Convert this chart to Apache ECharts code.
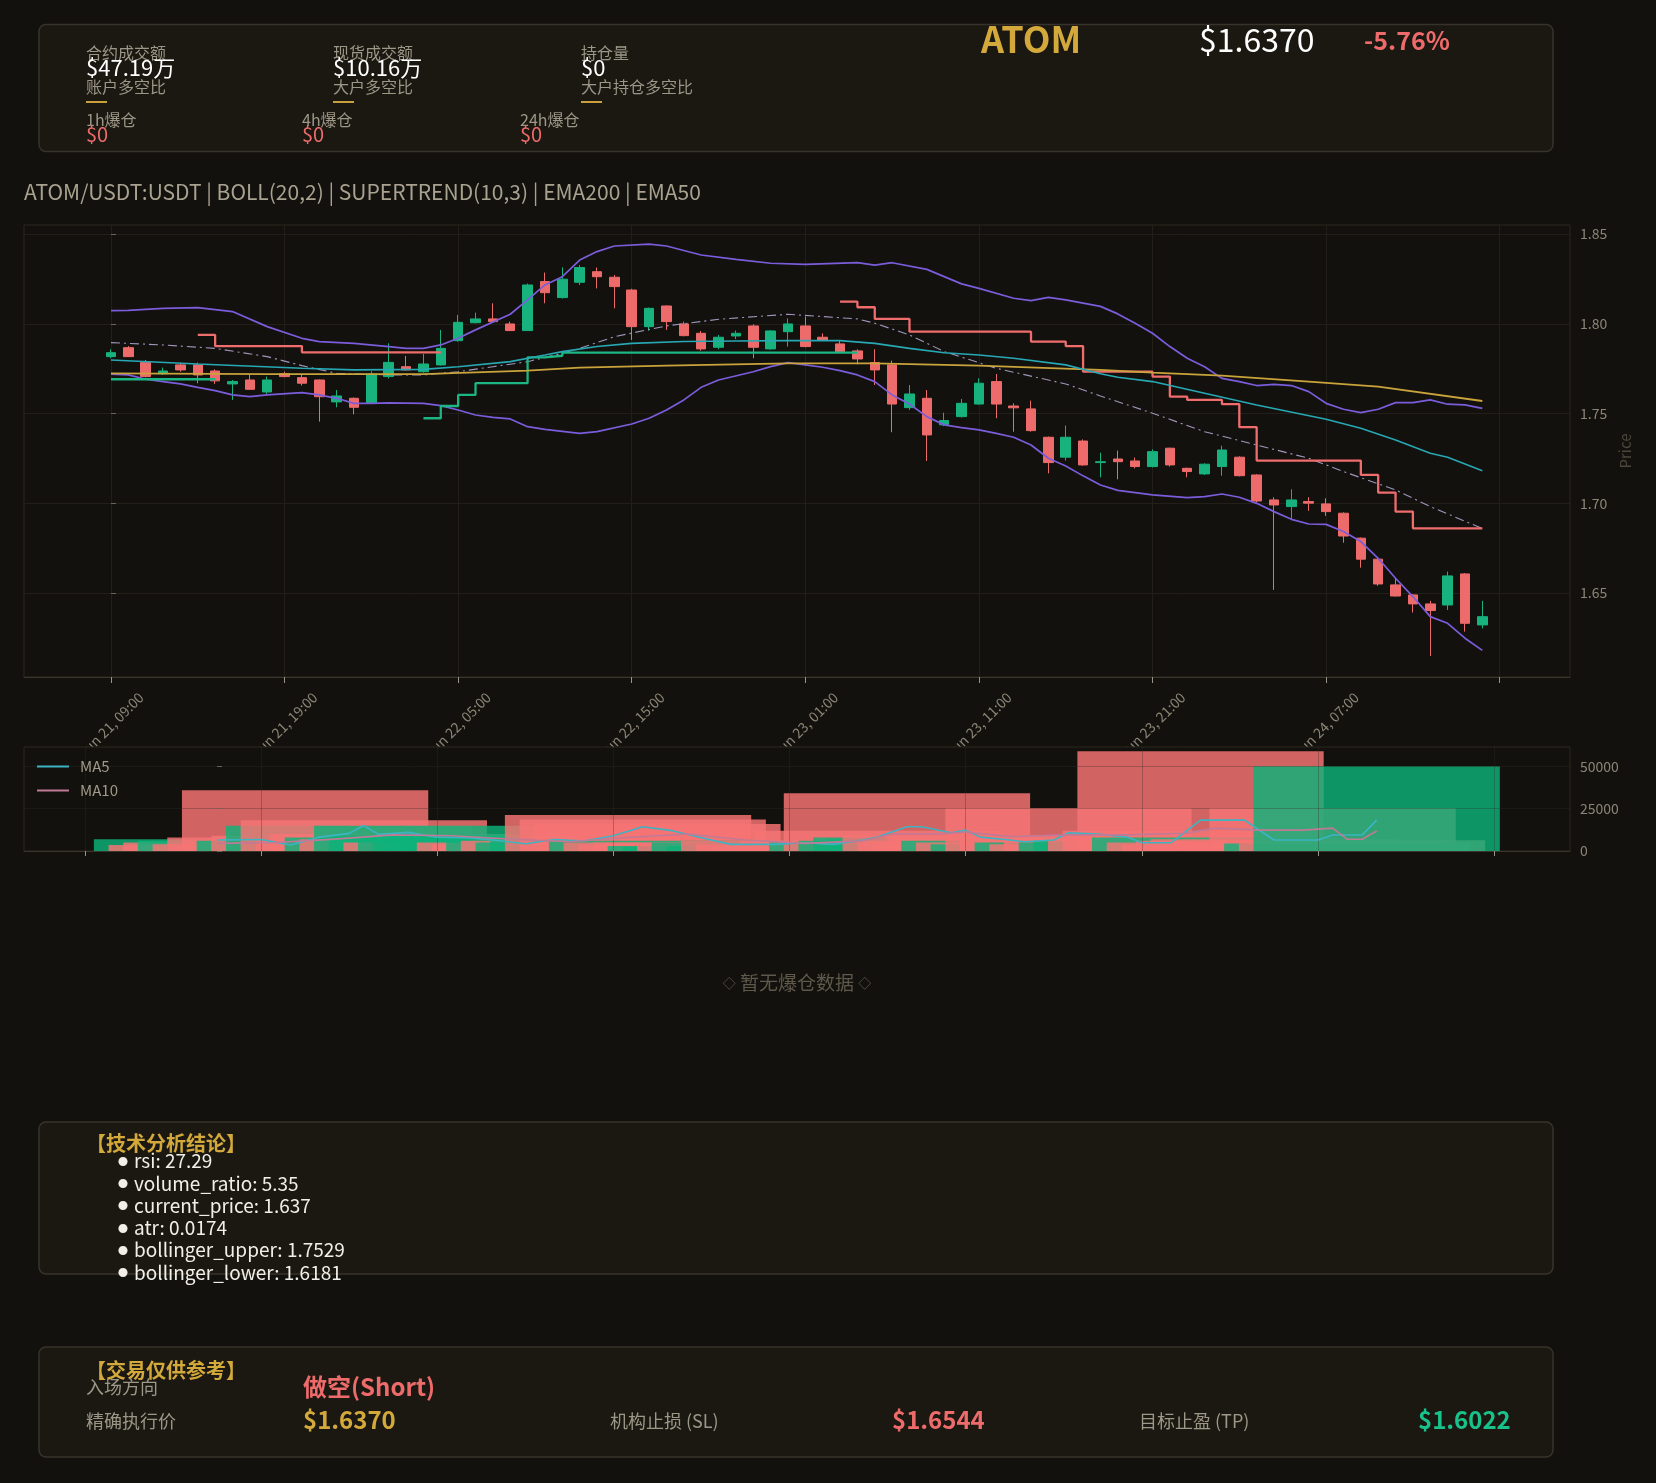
<!DOCTYPE html>
<html><head><meta charset="utf-8">
<script src="https://cdn.jsdelivr.net/npm/echarts@6/dist/echarts.min.js"></script>
<style>html,body{margin:0;padding:0;background:#13110d;}#c{width:1656px;height:1483px;}</style>
</head><body><div id="c"></div><script>
// ---------- data (x = hours since Jun 21 09:00, one candle per hour) ----------
const candleOpen  = [1.7817,1.7867,1.7785,1.7722,1.7771,1.7771,1.7737,1.7665,1.7687,1.7620,1.7722,1.7700,1.7687,1.7565,1.7585,1.7557,1.7706,1.7761,1.7733,1.7771,1.7906,1.8006,1.8027,1.7999,1.7962,1.8235,1.8146,1.8231,1.8290,1.8259,1.8188,1.7984,1.8099,1.7999,1.7947,1.7869,1.7932,1.7988,1.7860,1.7956,1.7988,1.7925,1.7888,1.7849,1.7784,1.7771,1.7533,1.7585,1.7437,1.7483,1.7553,1.7678,1.7542,1.7526,1.7368,1.7257,1.7347,1.7227,1.7247,1.7236,1.7205,1.7307,1.7195,1.7164,1.7205,1.7257,1.7158,1.7019,1.6982,1.7010,1.6997,1.6945,1.6806,1.6689,1.6546,1.6490,1.6440,1.6434,1.6607,1.6323];
const candleHigh  = [1.7858,1.7876,1.7798,1.7756,1.7784,1.7784,1.7746,1.7687,1.7715,1.7706,1.7733,1.7719,1.7690,1.7631,1.7590,1.7735,1.7891,1.7821,1.7832,1.7966,1.8049,1.8062,1.8114,1.8012,1.8224,1.8285,1.8314,1.8327,1.8313,1.8272,1.8195,1.8090,1.8103,1.8012,1.7960,1.7938,1.7962,1.7997,1.7964,1.8030,1.8040,1.7947,1.7906,1.7858,1.7858,1.7795,1.7659,1.7631,1.7505,1.7581,1.7696,1.7720,1.7557,1.7572,1.7372,1.7433,1.7356,1.7282,1.7294,1.7255,1.7301,1.7310,1.7199,1.7223,1.7321,1.7262,1.7162,1.7034,1.7078,1.7034,1.7028,1.6950,1.6810,1.6693,1.6588,1.6495,1.6457,1.6620,1.6612,1.6457];
const candleLow   = [1.7808,1.7815,1.7702,1.7715,1.7733,1.7669,1.7665,1.7576,1.7631,1.7609,1.7702,1.7656,1.7455,1.7535,1.7496,1.7553,1.7696,1.7740,1.7728,1.7768,1.7900,1.8002,1.8008,1.7960,1.7960,1.8114,1.8140,1.8216,1.8197,1.8086,1.7910,1.7962,1.7966,1.7930,1.7850,1.7858,1.7914,1.7808,1.7856,1.7873,1.7869,1.7906,1.7838,1.7774,1.7659,1.7396,1.7520,1.7236,1.7430,1.7478,1.7550,1.7474,1.7399,1.7399,1.7167,1.7238,1.7209,1.7145,1.7134,1.7195,1.7200,1.7205,1.7145,1.7158,1.7154,1.7150,1.7004,1.6518,1.6911,1.6958,1.6930,1.6781,1.6642,1.6541,1.6481,1.6392,1.6150,1.6406,1.6286,1.6304];
const candleClose = [1.7839,1.7817,1.7706,1.7737,1.7743,1.7715,1.7682,1.7678,1.7635,1.7687,1.7706,1.7669,1.7594,1.7598,1.7535,1.7720,1.7785,1.7743,1.7776,1.7863,1.8008,1.8027,1.8012,1.7962,1.8216,1.8173,1.8248,1.8313,1.8262,1.8207,1.7984,1.8086,1.8012,1.7934,1.7860,1.7925,1.7947,1.7869,1.7960,1.7999,1.7873,1.7910,1.7845,1.7804,1.7743,1.7553,1.7609,1.7381,1.7461,1.7557,1.7669,1.7553,1.7532,1.7405,1.7227,1.7368,1.7214,1.7232,1.7232,1.7205,1.7288,1.7214,1.7177,1.7218,1.7297,1.7154,1.7013,1.6991,1.7019,1.7001,1.6954,1.6818,1.6689,1.6551,1.6484,1.6440,1.6403,1.6596,1.6332,1.6369];

const bollUpper = [[0,1.8073],[1,1.8075],[3,1.8086],[5,1.8090],[7,1.8068],[9,1.7984],[11,1.7919],[12,1.7901],[14,1.7891],[16,1.7873],[17,1.7863],[18,1.7863],[19,1.7882],[20,1.7919],[21,1.7966],[23,1.8053],[24,1.8133],[25,1.8216],[26,1.8262],[27,1.8355],[28,1.8402],[29,1.8433],[31,1.8444],[32,1.8433],[34,1.8383],[36,1.8359],[38,1.8337],[40,1.8331],[43,1.8340],[44,1.8327],[45,1.8340],[47,1.8303],[49,1.8222],[50,1.8197],[52,1.8142],[53,1.8129],[54,1.8147],[55,1.8133],[57,1.8097],[58,1.8055],[59,1.8003],[60,1.7947],[61,1.7873],[62,1.7808],[63,1.7761],[64,1.7696],[65,1.7678],[66,1.7656],[67,1.7663],[68,1.7656],[69,1.7622],[70,1.7557],[71,1.7524],[72,1.7505],[73,1.7524],[74,1.7561],[75,1.7561],[76,1.7576],[77,1.7552],[78,1.7548],[79,1.7529]];
const bollLower = [[0,1.7719],[1,1.7715],[2,1.7691],[3,1.7678],[4,1.7665],[5,1.7646],[6,1.7628],[7,1.7604],[8,1.7594],[9,1.7604],[11,1.7617],[12,1.7604],[13,1.7585],[14,1.7557],[15,1.7557],[16,1.7559],[18,1.7557],[19,1.7544],[20,1.7520],[21,1.7492],[22,1.7479],[23,1.7470],[24,1.7427],[25,1.7412],[26,1.7401],[27,1.7390],[28,1.7399],[30,1.7442],[31,1.7474],[32,1.7520],[33,1.7576],[34,1.7646],[35,1.7687],[37,1.7733],[38,1.7761],[39,1.7784],[40,1.7771],[41,1.7758],[42,1.7739],[43,1.7715],[44,1.7678],[45,1.7604],[46,1.7553],[47,1.7483],[48,1.7437],[49,1.7422],[50,1.7409],[51,1.7390],[52,1.7368],[53,1.7325],[54,1.7251],[55,1.7208],[56,1.7153],[57,1.7102],[58,1.7072],[60,1.7047],[62,1.7032],[63,1.7037],[64,1.7052],[65,1.7034],[66,1.7000],[67,1.6954],[68,1.6911],[69,1.6885],[70,1.6883],[71,1.6843],[72,1.6787],[73,1.6694],[74,1.6583],[75,1.6481],[76,1.6369],[77,1.6332],[78,1.6249],[79,1.6181]];
const bollMid = [[0,1.7895],[3,1.7882],[6,1.7863],[9,1.7817],[11,1.7767],[13,1.7724],[16,1.7715],[18,1.7715],[20,1.7733],[22,1.7761],[24,1.7789],[26,1.7836],[27,1.7863],[29,1.7928],[32,1.7988],[35,1.8025],[39,1.8053],[43,1.8027],[44,1.8003],[46,1.7938],[48,1.7845],[51,1.7752],[55,1.7665],[57,1.7598],[60,1.7502],[63,1.7399],[66,1.7325],[69,1.7251],[71,1.7177],[74,1.7075],[76,1.6982],[79,1.6860]];
const ema50 = [[0,1.7798],[5,1.7776],[11,1.7752],[14,1.7743],[18,1.7746],[20,1.7761],[23,1.7789],[25,1.7826],[26,1.7845],[28,1.7873],[30,1.7891],[33,1.7901],[36,1.7904],[39,1.7906],[42,1.7906],[44,1.7891],[46,1.7863],[48,1.7839],[50,1.7826],[52,1.7808],[55,1.7771],[57,1.7722],[58,1.7702],[60,1.7678],[63,1.7613],[66,1.7548],[70,1.7468],[72,1.7418],[74,1.7353],[76,1.7279],[77,1.7257],[79,1.7182]];
const ema200 = [[0,1.7724],[9,1.7720],[18,1.7720],[24,1.7739],[27,1.7756],[32,1.7767],[39,1.7780],[44,1.7780],[50,1.7767],[57,1.7743],[60,1.7728],[64,1.7711],[69,1.7678],[73,1.7650],[79,1.7570]];
const superTrendUp = [1.7691,1.7691,1.7691,1.7691,1.7691,1.7691,null,null,null,null,null,null,null,null,null,null,null,null,1.7474,1.7542,1.7604,1.7669,1.7669,1.7669,1.7813,1.7822,1.7839,1.7839,1.7839,1.7839,1.7839,1.7839,1.7839,1.7839,1.7839,1.7839,1.7839,1.7839,1.7839,1.7839,1.7839,1.7839,1.7839,null,null,null,null,null,null,null,null,null,null,null,null,null,null,null,null,null,null,null,null,null,null,null,null,null,null,null,null,null,null,null,null,null,null,null,null,null];
const superTrendDown = [null,null,null,null,null,1.7938,1.7876,1.7876,1.7876,1.7876,1.7876,1.7841,1.7841,1.7841,1.7841,1.7841,1.7841,1.7841,1.7841,null,null,null,null,null,null,null,null,null,null,null,null,null,null,null,null,null,null,null,null,null,null,null,1.8123,1.8092,1.8027,1.8027,1.7956,1.7956,1.7956,1.7956,1.7956,1.7956,1.7956,1.7901,1.7901,1.7876,1.7733,1.7733,1.7733,1.7733,1.7706,1.7594,1.7576,1.7576,1.7552,1.7424,1.7238,1.7238,1.7238,1.7238,1.7238,1.7238,1.7158,1.7060,1.6954,1.6861,1.6861,1.6861,1.6861,1.6861];

const volumes = [7000,3500,5000,6000,4000,8000,35900,6000,9000,14900,18200,6000,10000,8000,7000,14900,9000,5000,6000,9000,7000,4000,5000,4000,8000,6000,5000,7000,21200,18600,15900,6000,5000,4000,5000,3000,2500,4000,5000,3000,6000,4000,3000,4000,6000,12000,5000,34000,6000,8000,7000,9000,6000,5000,9000,6000,5000,4000,25300,6000,5000,4000,8000,5000,6000,8000,12000,58800,8000,5000,4000,6000,7000,6000,5000,5000,25300,4400,6300,50000];
const volMA5 = [[0,6500],[3,6800],[5,3500],[7,8200],[9,10400],[10,15000],[11,9800],[13,11000],[15,8200],[17,7800],[19,6300],[21,4300],[23,6800],[25,5900],[27,9000],[29,14300],[31,12000],[33,7800],[35,3900],[38,3900],[40,4900],[42,3900],[44,6500],[45,8200],[47,14300],[48,14300],[50,10800],[51,12300],[52,8200],[54,6500],[55,5500],[57,6500],[58,10800],[60,10000],[62,8200],[63,4900],[65,4900],[67,18200],[70,18200],[72,6500],[75,6500],[76,9400],[78,9400],[79,18200]];
const volMA10 = [[0,4500],[4,5000],[8,7000],[12,9500],[16,9000],[20,7000],[24,5500],[28,8000],[32,10000],[36,6500],[40,4500],[44,6000],[46,10000],[49,10000],[51,11200],[54,8500],[58,9500],[62,9500],[66,10500],[68,13500],[71,12300],[74,12300],[76,13500],[77,6900],[78,6900],[79,11800]];

const priceTicks = [1.65,1.70,1.75,1.80,1.85];
const timeTickHours = [0,10,20,30,40,50,60,70,80];
const timeTickLabels = ['Jun 21, 09:00','Jun 21, 19:00','Jun 22, 05:00','Jun 22, 15:00','Jun 23, 01:00','Jun 23, 11:00','Jun 23, 21:00','Jun 24, 07:00'];
const volTickHours = [-9,3,15,27,39,51,63,75,87];
const volTicks = [0,25000,50000];
const analysisLines = ['rsi: 27.29','volume_ratio: 5.35','current_price: 1.637','atr: 0.0174','bollinger_upper: 1.7529','bollinger_lower: 1.6181'];

// ---------- style ----------
const FF = '"Noto Sans CJK SC","Noto Sans",sans-serif';
const UP = '#17b27e', DOWN = '#ee6b6b';
const GRIDC = '#221f19', LABC = '#8b8576';
const BG = '#13110d', BOX = '#1b1812', BOXS = '#38332a';
const GOLD = '#d3a93b', GRAY = '#9d9787';
const VGRID = 'rgba(50,46,40,0.32)';
const volHalfWidth = 8.39;

const chart = echarts.init(document.getElementById('c'), null, {renderer: 'canvas'});

function txt(x, y, text, size, fill, weight, align) {
  return {type: 'text', x: x, y: y, z: 10, style: {text: text, fill: fill, fontSize: size, fontFamily: FF, fontWeight: weight || 'normal', align: align || 'left', verticalAlign: 'middle'}};
}
function box(x, y, w, h) {
  return {type: 'rect', z: 0, shape: {x: x, y: y, width: w, height: h, r: 7}, style: {fill: BOX, stroke: BOXS, lineWidth: 1.5}};
}
function bar(x, y) {
  return {type: 'rect', z: 10, shape: {x: x, y: y, width: 21, height: 2}, style: {fill: '#c9a13c'}};
}

const graphics = [
  box(39, 24.5, 1514, 127),
  txt(86, 53, '合约成交额', 16, GRAY), txt(86, 68, '$47.19万', 22, '#ffffff'), txt(86, 87, '账户多空比', 16, GRAY), bar(86, 101),
  txt(333, 53, '现货成交额', 16, GRAY), txt(333, 68, '$10.16万', 22, '#ffffff'), txt(333, 87, '大户多空比', 16, GRAY), bar(333, 101),
  txt(581, 53, '持仓量', 16, GRAY), txt(581, 68, '$0', 22, '#ffffff'), txt(581, 87, '大户持仓多空比', 16, GRAY), bar(581, 101),
  txt(86, 120, '1h爆仓', 16, GRAY), txt(86, 134, '$0', 20, DOWN),
  txt(302, 120, '4h爆仓', 16, GRAY), txt(302, 134, '$0', 20, DOWN),
  txt(520, 120, '24h爆仓', 16, GRAY), txt(520, 134, '$0', 20, DOWN),
  txt(981, 39, 'ATOM', 36, GOLD, 'bold'),
  txt(1199, 40, '$1.6370', 32, '#ffffff'),
  txt(1364, 40, '-5.76%', 25, DOWN, 'bold'),
  txt(24, 192, 'ATOM/USDT:USDT | BOLL(20,2) | SUPERTREND(10,3) | EMA200 | EMA50', 21, '#a9a290'),
  // cover for the rotated date labels that run into the volume panel
  {type: 'rect', z: 1, shape: {x: 24, y: 747, width: 1546, height: 104}, style: {fill: BG}},
  {type: 'text', x: 797, y: 983, z: 10, style: {
    text: '{d|◇} 暂无爆仓数据 {d|◇}', fill: '#5f594b', fontSize: 19, fontFamily: FF, align: 'center', verticalAlign: 'middle',
    rich: {d: {fontSize: 13, fill: '#5f594b', fontFamily: FF}}}},
  box(39, 1122, 1514, 152),
  txt(86, 1143, '【技术分析结论】', 20, GOLD, 'bold'),
  box(39, 1347, 1514, 110),
  txt(86, 1370, '【交易仅供参考】', 20, GOLD, 'bold'),
  txt(86, 1387, '入场方向', 18, GRAY),
  txt(303, 1387, '做空(Short)', 24, DOWN, 'bold'),
  txt(86, 1421, '精确执行价', 18, GRAY),
  txt(303, 1420, '$1.6370', 24, GOLD, 'bold'),
  txt(610, 1421, '机构止损 (SL)', 18, GRAY),
  txt(892, 1420, '$1.6544', 24, DOWN, 'bold'),
  txt(1139, 1421, '目标止盈 (TP)', 18, GRAY),
  txt(1418, 1420, '$1.6022', 24, '#19c28a', 'bold')
];
analysisLines.forEach((s, k) => {
  const y = 1161 + k * 22.3;
  graphics.push(txt(118, y + 1, '●', 10, '#f2efe8'));
  graphics.push(txt(134, y, s, 19, '#f2efe8'));
});

const lineS = (name, data, color, width, extra) => Object.assign({
  name: name, type: 'line', data: data, xAxisIndex: 0, yAxisIndex: 0, symbol: 'none', showSymbol: false,
  lineStyle: {color: color, width: width}, itemStyle: {color: color}, animation: false, z: 3
}, extra || {});

const option = {
  backgroundColor: BG,
  animation: false,
  textStyle: {fontFamily: FF},
  graphic: graphics,
  legend: {
    data: ['MA5', 'MA10'], orient: 'vertical', left: 37, top: 759, padding: 0, itemWidth: 32, itemHeight: 14, itemGap: 9,
    icon: 'path://M0,6 L32,6 L32,8 L0,8 Z',
    textStyle: {color: '#a09a88', fontSize: 15, fontFamily: FF, padding: [0, 0, 0, 6]}, z: 10
  },
  grid: [
    {left: 24, top: 225, width: 1546, height: 452, show: true, borderColor: '#2c2920', borderWidth: 1, backgroundColor: 'transparent', outerBoundsMode: 'none'},
    {left: 24, top: 747, width: 1546, height: 104, show: true, borderColor: '#2c2920', borderWidth: 1, backgroundColor: 'transparent', z: 3, outerBoundsMode: 'none'}
  ],
  xAxis: [
    {type: 'value', gridIndex: 0, min: -5.01, max: 84.05,
     axisLine: {show: true, lineStyle: {color: '#3a362c'}},
     axisTick: {show: true, length: 6, lineStyle: {color: '#9a9486'}, customValues: timeTickHours},
     splitLine: {show: true, lineStyle: {color: GRIDC, width: 1}},
     axisLabel: {show: true, customValues: timeTickHours.slice(0, 8), rotate: 45, align: 'center', verticalAlign: 'middle', margin: 48,
       color: LABC, fontSize: 14, fontFamily: FF,
       formatter: v => timeTickLabels[timeTickHours.indexOf(Math.round(v))] || ''}},
    {type: 'value', gridIndex: 1, min: -13.15, max: 92.17, z: 5,
     axisLine: {show: true, lineStyle: {color: '#3a362c'}},
     axisTick: {show: true, length: 5, lineStyle: {color: '#9a9486'}, customValues: volTickHours},
     splitLine: {show: true, lineStyle: {color: VGRID, width: 1}},
     axisLabel: {show: false}}
  ],
  yAxis: [
    {type: 'value', gridIndex: 0, position: 'right', min: 1.6033, max: 1.8550,
     name: 'Price', nameLocation: 'middle', nameGap: 45, nameRotate: 90,
     nameTextStyle: {color: '#4a463a', fontSize: 15, fontFamily: FF},
     axisLine: {show: false},
     axisTick: {show: true, length: 5, lineStyle: {color: '#6a6558'}, customValues: priceTicks},
     splitLine: {show: true, lineStyle: {color: GRIDC, width: 1}},
     axisLabel: {customValues: priceTicks, color: LABC, fontSize: 14, fontFamily: FF, margin: 10, formatter: v => v.toFixed(2)}},
    {type: 'value', gridIndex: 1, position: 'right', min: 0, max: 61350, z: 5,
     axisLine: {show: false},
     axisTick: {show: true, length: 5, lineStyle: {color: '#6a6558'}, customValues: volTicks},
     splitLine: {show: true, lineStyle: {color: VGRID, width: 1}},
     axisLabel: {customValues: volTicks, color: LABC, fontSize: 14, fontFamily: FF, margin: 10, formatter: v => String(v)}}
  ],
  series: [
    {name: 'candles', type: 'candlestick', xAxisIndex: 0, yAxisIndex: 0, barWidth: 10, z: 2,
     data: candleOpen.map((o, i) => [i, o, candleClose[i], candleLow[i], candleHigh[i]]),
     encode: {x: 0, y: [1, 2, 3, 4]},
     itemStyle: {color: UP, color0: DOWN, borderColor: UP, borderColor0: DOWN, borderWidth: 1}},
    lineS('bollUpper', bollUpper, '#7b5ddc', 1.7),
    lineS('bollLower', bollLower, '#7b5ddc', 1.7),
    lineS('bollMid', bollMid, '#a096bd', 1.1, {lineStyle: {color: '#a096bd', width: 1.1, type: [9, 4, 2, 4]}}),
    lineS('stUp', superTrendUp.map((v, i) => [i, v]), '#1bb683', 2.3, {step: 'end', connectNulls: false}),
    lineS('stDown', superTrendDown.map((v, i) => [i, v]), '#ef6d6d', 2.3, {step: 'end', connectNulls: false}),
    lineS('ema200', ema200, '#c9a33b', 1.8),
    lineS('ema50', ema50, '#27a8b4', 1.6),
    {name: 'volume', type: 'custom', xAxisIndex: 1, yAxisIndex: 1, z: 4,
     data: volumes.map((v, i) => [i, v, candleClose[i] >= candleOpen[i] ? 1 : 0]),
     renderItem: function (params, api) {
       const i = api.value(0), v = api.value(1), up = api.value(2);
       const p0 = api.coord([i - volHalfWidth, v]);
       const p1 = api.coord([i + volHalfWidth, 0]);
       const cs = params.coordSys;
       const r = echarts.graphic.clipRectByRect(
         {x: p0[0], y: p0[1], width: p1[0] - p0[0], height: p1[1] - p0[1]},
         {x: cs.x, y: cs.y, width: cs.width, height: cs.height});
       return r && {type: 'rect', shape: r, style: {fill: up ? 'rgba(14,178,122,0.82)' : 'rgba(246,116,116,0.84)'}};
     }},
    {name: 'MA5', type: 'line', xAxisIndex: 1, yAxisIndex: 1, data: volMA5, symbol: 'none', z: 6,
     lineStyle: {color: '#3cb4c4', width: 1.6}, itemStyle: {color: '#3cb4c4'}},
    {name: 'MA10', type: 'line', xAxisIndex: 1, yAxisIndex: 1, data: volMA10, symbol: 'none', z: 6,
     lineStyle: {color: '#c07a96', width: 1.6}, itemStyle: {color: '#c07a96'}}
  ]
};
chart.setOption(option);
</script></body></html>
